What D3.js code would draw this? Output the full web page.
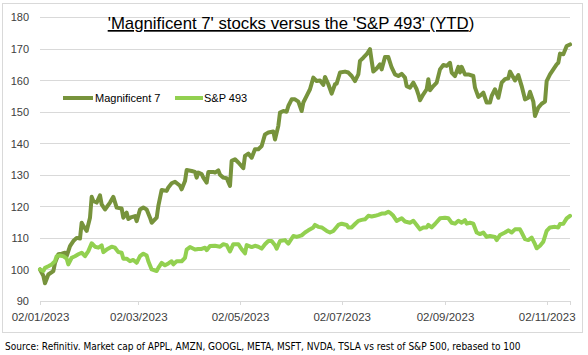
<!DOCTYPE html>
<html>
<head>
<meta charset="utf-8">
<script src="https://cdn.jsdelivr.net/npm/d3@7"></script>
<style>
  html, body { margin: 0; padding: 0; background: #fff; }
  svg { display: block; font-family: "Liberation Sans", Arial, sans-serif; }
</style>
</head>
<body>
<svg id="chart" width="588" height="355"></svg>
<script>
// ---- Data (dates are 2023, MM-DD) ----
const seriesNames = ["Magnificent 7", "S&P 493"];

const mag7Dates = ["01-02","01-04","01-05","01-07","01-10","01-11","01-13","01-15","01-17","01-18","01-20","01-22","01-24","01-26","01-27","01-28","01-30",
"02-01","02-02","02-03","02-05","02-07","02-08","02-10","02-13","02-15","02-17","02-20","02-21","02-23","02-24","02-26","02-28",
"03-01","03-03","03-05","03-07","03-09","03-10","03-13","03-14","03-16","03-19","03-20","03-22","03-24","03-27","03-28","03-30","03-31",
"04-03","04-05","04-06","04-07","04-09","04-10","04-12","04-13","04-16","04-17","04-19","04-20","04-22","04-24","04-26","04-27","04-29",
"05-01","05-04","05-05","05-07","05-09","05-11","05-13","05-15","05-17","05-19","05-22","05-23","05-25","05-26","05-28","05-30","05-31",
"06-02","06-04","06-06","06-08","06-09","06-11","06-13","06-15","06-17","06-19","06-21","06-22","06-24","06-26","06-28","06-29",
"07-01","07-04","07-06","07-08","07-10","07-12","07-13","07-15","07-17","07-19","07-20","07-21","07-23","07-25","07-26","07-28","07-30",
"08-01","08-03","08-05","08-07","08-09","08-10","08-12","08-14","08-16","08-17","08-18","08-20","08-22","08-23","08-24","08-26","08-28","08-30",
"09-01","09-03","09-05","09-06","09-08","09-10","09-11","09-12","09-14","09-16","09-19","09-20","09-22","09-24","09-25","09-27","09-29","09-30",
"10-02","10-04","10-06","10-08","10-10","10-11","10-13","10-14","10-16","10-18","10-20","10-22","10-23","10-25","10-26","10-28","10-30",
"11-01","11-02","11-04","11-06","11-08","11-09","11-10","11-12","11-14","11-16"];
const mag7Values = [100,98,95.6,98.4,99.5,102,104.8,105,105.3,104.2,107.4,109,110,109.8,114.8,113.8,112.2,
116.4,123,121.7,121.2,123.5,120.6,119,121.2,123,119.6,119.3,116.4,118,116,116.6,116.9,
115.3,119,119.6,119,116.4,114.8,116.4,120.1,125.2,124.9,126,127.3,127.8,126.5,125.4,128,131.5,
131.2,130.9,129.1,130.7,130.2,129.1,127.5,130.9,130.9,130.7,131.4,130,129.1,128.9,126.5,134.4,134.9,
133.9,132.1,136,136.7,135.4,138.1,138.1,139.1,142.8,143.4,143.7,141.2,145.5,149.7,150.2,150,151.8,
153.9,153.9,153.2,150.2,152.9,155,157.1,160.8,159.7,159.9,158.5,161,158.7,155.7,158.7,158.9,
162.4,162.7,162.4,161.3,159.7,161.8,166.1,167.1,168.2,169.8,166.1,162.7,163.7,165,163.4,167.3,167.3,
164,161.8,161.3,162,160.8,158.1,157.6,159.2,157.1,155.5,153.6,155.5,157.1,160.3,156.8,158.1,159.2,163.4,
164.8,164.5,165.5,162.4,161.3,164.2,162.4,164.2,161.8,161.8,161.3,157.6,154.7,155.5,156,152.9,152.9,155,
157.1,154.4,159.2,160.3,160.6,162.7,160.8,159.9,161.6,158.1,153.9,154.4,156.3,153.2,148.6,151.3,152.5,
153.2,159.7,161.8,163.4,165,165.5,168.4,168.2,170.8,171.3];

const spDates = ["01-02","01-04","01-05","01-07","01-09","01-11","01-12","01-14","01-16","01-18","01-19","01-21","01-23","01-25","01-27","01-29","01-31",
"02-02","02-04","02-06","02-08","02-09","02-11","02-14","02-16","02-18","02-20","02-21","02-23","02-25","02-27",
"03-01","03-03","03-05","03-07","03-08","03-10","03-13","03-14","03-16","03-18","03-20","03-22","03-23","03-25","03-28","03-30","03-31",
"04-02","04-05","04-07","04-09","04-11","04-12","04-14","04-17","04-20","04-22","04-24","04-26","04-28",
"05-01","05-03","05-05","05-06","05-09","05-11","05-13","05-15","05-17","05-19","05-21","05-23","05-24","05-26","05-29","05-31",
"06-03","06-05","06-08","06-10","06-12","06-15","06-16","06-18","06-20","06-23","06-25","06-27","06-30",
"07-02","07-05","07-06","07-08","07-10","07-12","07-14","07-16","07-18","07-20","07-22","07-24","07-26","07-28","07-30","07-31",
"08-02","08-04","08-07","08-09","08-12","08-14","08-16","08-18","08-20","08-22","08-23","08-25","08-27","08-30",
"09-02","09-04","09-06","09-08","09-10","09-12","09-14","09-15","09-17","09-19","09-21","09-23","09-25","09-27","09-29",
"10-02","10-03","10-05","10-08","10-10","10-12","10-14","10-17","10-18","10-20","10-22","10-24","10-26","10-27","10-29","10-31",
"11-02","11-04","11-07","11-09","11-10","11-12","11-14","11-16"];
const spValues = [100,99.5,100.5,101,101.6,102.6,104.2,104.4,104.2,103.4,101.6,103.7,104.2,104.8,105.3,104.2,105.8,
108.3,107.2,106.9,107.6,105.5,106.3,107.2,106.9,105.5,105.3,103.4,103.4,102.6,103,
102.1,104.2,105,104.4,102.6,100,99.5,100.5,102.1,101.3,101.9,102.6,101.6,102.6,102.6,103.7,106.3,
107.1,106.3,106.5,106.5,106.9,106.1,107.4,107.5,107.2,108,107.7,105.7,108,
108,106.4,105.1,107.7,107.1,107.5,107.2,106.6,108,109,109,107.7,106.6,109,109.3,108.2,
110.6,110.3,110.8,111.7,112.4,113.3,114.1,113.5,113.3,112.2,111.7,112.2,114.1,
114.5,114.1,113.3,113.3,114.4,115.4,115.7,115.9,117,116.8,117,117.3,117.7,117.7,118.3,118,
117,115.4,116.2,115.2,114.8,115.4,114.1,112.7,113.3,113.3,114.1,113.3,114.4,116.2,
116.4,116.2,114.8,114.5,115.4,114.8,115.6,114.5,114.8,114.5,111.7,111.2,111.7,110.3,110.6,
110.3,109.3,110.9,111.7,112.4,111.7,112.7,112.7,111.7,109.6,109.3,110.1,108,106.7,107.5,108.8,
112.2,113.3,113.5,113.3,114.4,114.5,116.2,117];

const yTicks = [90,100,110,120,130,140,150,160,170,180];
const xTickDates = ["01-02","03-02","05-02","07-02","09-02","11-02"];
const titleText = "'Magnificent 7' stocks versus the 'S&P 493' (YTD";
const titleTail = ")";
const sourceText = "Source: Refinitiv. Market cap of APPL, AMZN, GOOGL, META, MSFT, NVDA, TSLA vs rest of S&P 500, rebased to 100";

// ---- Build ----
const parse = s => d3.timeParse("%Y-%m-%d")("2023-" + s);
const fmt = d3.timeFormat("%d/%m/%Y");
const mag7 = mag7Dates.map((d, i) => ({ date: parse(d), value: mag7Values[i] }));
const sp = spDates.map((d, i) => ({ date: parse(d), value: spValues[i] }));
const colors = ["#77933C", "#92D050"];

const svg = d3.select("#chart");
const W = 588, H = 355;
const m = { left: 40, right: 570, top: 17, bottom: 301 };

svg.append("rect").attr("width", W).attr("height", H).attr("fill", "#fff");
svg.append("rect").attr("x", 2.5).attr("y", 3.5).attr("width", 580).attr("height", 329)
  .attr("fill", "none").attr("stroke", "#d9d9d9").attr("stroke-width", 1);

const allDates = mag7.concat(sp).map(d => d.date);
const x = d3.scaleTime().domain(d3.extent(allDates)).range([m.left, m.right]);
const y = d3.scaleLinear().domain([90, 180]).range([m.bottom, m.top]);

// gridlines + y axis
const yAxis = d3.axisLeft(y).tickValues(yTicks).tickSize(-(m.right - m.left)).tickFormat(d3.format("d")).tickPadding(11);
const gy = svg.append("g").attr("transform", `translate(${m.left},0)`).call(yAxis);
gy.select(".domain").remove();
gy.selectAll(".tick line").attr("stroke", "#d9d9d9").attr("stroke-width", 1)
  .attr("shape-rendering", "crispEdges");
gy.selectAll(".tick text").attr("fill", "#404040").style("font-size", "11px")
  .style("font-family", "'Liberation Sans', Arial, sans-serif").attr("dy", "0.36em");

// x axis
const xAxis = d3.axisBottom(x).tickValues(xTickDates.map(parse)).tickFormat(fmt).tickSize(4).tickPadding(8);
const gx = svg.append("g").attr("transform", `translate(0,${m.bottom})`).call(xAxis);
gx.select(".domain").attr("stroke", "#d9d9d9").attr("shape-rendering", "crispEdges");
gx.selectAll(".tick line").attr("stroke", "#d9d9d9").attr("shape-rendering", "crispEdges");
gx.selectAll(".tick text").attr("fill", "#404040").style("font-size", "11.5px")
  .style("font-family", "'Liberation Sans', Arial, sans-serif");

// lines
const line = d3.line().x(d => x(d.date)).y(d => y(d.value));
[mag7, sp].forEach((data, i) => {
  svg.append("path").datum(data).attr("d", line).attr("fill", "none")
    .attr("stroke", colors[i]).attr("stroke-width", 4)
    .attr("stroke-linejoin", "round").attr("stroke-linecap", "round");
});

// legend
const legendItems = [{ x1: 63, x2: 93, tx: 95 }, { x1: 175, x2: 203, tx: 204 }];
legendItems.forEach((l, i) => {
  svg.append("line").attr("x1", l.x1).attr("x2", l.x2).attr("y1", 98).attr("y2", 98)
    .attr("stroke", colors[i]).attr("stroke-width", 4);
  svg.append("text").attr("x", l.tx).attr("y", 102).attr("fill", "#000")
    .style("font-size", "11px").text(seriesNames[i]);
});

// title
const title = svg.append("text").attr("x", 291).attr("y", 29).attr("text-anchor", "middle")
  .attr("fill", "#000").style("font-size", "15px");
title.append("tspan").style("text-decoration", "underline").text(titleText);
title.append("tspan").text(titleTail);
const tl = title.node().getComputedTextLength();
title.style("font-size", (15 * 367 / tl) + "px");

// source
const src = svg.append("text").attr("x", 5).attr("y", 350).attr("fill", "#000")
  .style("font-family", "'Liberation Sans Narrow', 'DejaVu Sans Condensed', 'Liberation Sans', Arial, sans-serif")
  .style("font-size", "11px").text(sourceText);
const sl = src.node().getComputedTextLength();
src.style("font-size", Math.min(12, 11 * 516 / sl) + "px");
</script>
</body>
</html>
